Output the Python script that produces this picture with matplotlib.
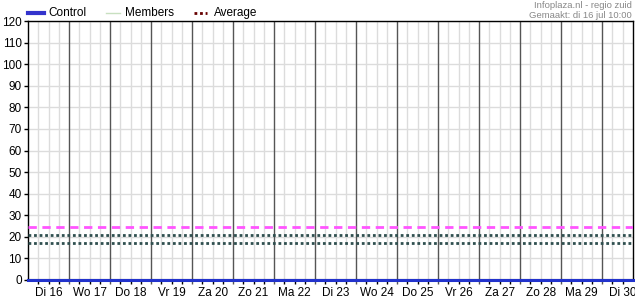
import matplotlib
matplotlib.use("Agg")
import matplotlib.pyplot as plt
from matplotlib.lines import Line2D
import numpy as np

plt.rcParams['font.family'] = ['Liberation Sans', 'DejaVu Sans']

# ---- data ----
day_labels = ['Di 16', 'Wo 17', 'Do 18', 'Vr 19', 'Za 20', 'Zo 21', 'Ma 22',
              'Di 23', 'Wo 24', 'Do 25', 'Vr 26', 'Za 27', 'Zo 28', 'Ma 29', 'Di 30']
x_start_day = 0.0
x_end_day = 14.75          # 30 jul 18:00
time_days = [0.0, 2.0, 4.0, 6.0, 8.0, 10.0, 12.0, 14.0, 14.75]
control = [0, 0, 0, 0, 0, 0, 0, 0, 0]
members = [0, 0, 0, 0, 0, 0, 0, 0, 0]
level_magenta = 24.7
level_dotted_high = 20.9
level_dotted_low = 17.2
y_ticks = [0, 10, 20, 30, 40, 50, 60, 70, 80, 90, 100, 110, 120]
source_text = 'Infoplaza.nl - regio zuid'
made_text = 'Gemaakt: di 16 jul 10:00'

W, H = 635, 300
fig = plt.figure(figsize=(W / 100, H / 100), dpi=100)
ax = fig.add_axes([28 / W, (H - 280) / H, (633 - 28) / W, (280 - 21) / H])

ax.set_xlim(x_start_day, x_end_day)
ax.set_ylim(0, 120)

# grids
for v in y_ticks:
    ax.axhline(v, color='#dcdcdc', lw=1, zorder=1)
minor_x = [d + f for d in range(15) for f in (0.25, 0.5, 0.75) if d + f < x_end_day]
for xv in minor_x:
    ax.axvline(xv, color='#dcdcdc', lw=1, zorder=1)
major_x = [d for d in range(1, 15)]
for xv in major_x:
    ax.axvline(xv, color='#555555', lw=1, zorder=2)

# reference lines
ax.axhline(level_magenta, color='#ff55ff', lw=2, ls=(0, (3, 2)), zorder=3)
ax.axhline(level_dotted_high, color='#2f4f4f', lw=2, ls=(0, (1, 1)), zorder=3)
ax.axhline(level_dotted_low, color='#2f4f4f', lw=2, ls=(0, (1, 1)), zorder=3)

# series
ax.plot(time_days, members, color='#c8e0c0', lw=1, zorder=4, clip_on=False)
ax.plot(time_days, control, color='#2233cc', lw=2.2, zorder=5, clip_on=False)

# ticks
ax.set_yticks(y_ticks)
ax.set_yticklabels([str(v) for v in y_ticks], fontsize=8.5)
ax.tick_params(axis='y', length=3, width=1, color='black', pad=1.5)
ax.set_xticks(major_x)
ax.set_xticklabels([])
ax.tick_params(axis='x', which='major', length=3, width=1, color='#555555')
ax.set_xticks(minor_x, minor=True)
ax.tick_params(axis='x', which='minor', length=3, width=1, color='black')
for i, lab in enumerate(day_labels):
    ax.text(i + 0.5, -3.2, lab, ha='center', va='top', fontsize=8.5,
            transform=ax.transData, clip_on=False)

for s in ax.spines.values():
    s.set_color('black')
    s.set_linewidth(1)
ax.spines['bottom'].set_linewidth(1.5)

# legend (manual)
fig.add_artist(Line2D([28 / W, 44 / W], [1 - 13 / H, 1 - 13 / H], color='#3333cc', lw=3))
fig.text(48 / W, 1 - 13 / H, 'Control', fontsize=8.5, va='center', ha='left')
fig.add_artist(Line2D([106 / W, 120 / W], [1 - 13 / H, 1 - 13 / H], color='#c8e0c0', lw=1))
fig.text(125 / W, 1 - 13 / H, 'Members', fontsize=8.5, va='center', ha='left')
fig.add_artist(Line2D([194 / W, 207 / W], [1 - 13 / H, 1 - 13 / H], color='#660000', lw=2,
                      ls=(0, (1, 1))))
fig.text(214 / W, 1 - 13 / H, 'Average', fontsize=8.5, va='center', ha='left')

fig.text(632 / W, 1 - 5.5 / H, source_text, fontsize=6.8, color='#888888', ha='right', va='center')
fig.text(632 / W, 1 - 15 / H, made_text, fontsize=6.8, color='#888888', ha='right', va='center')

fig.savefig('out.png', dpi=100)
